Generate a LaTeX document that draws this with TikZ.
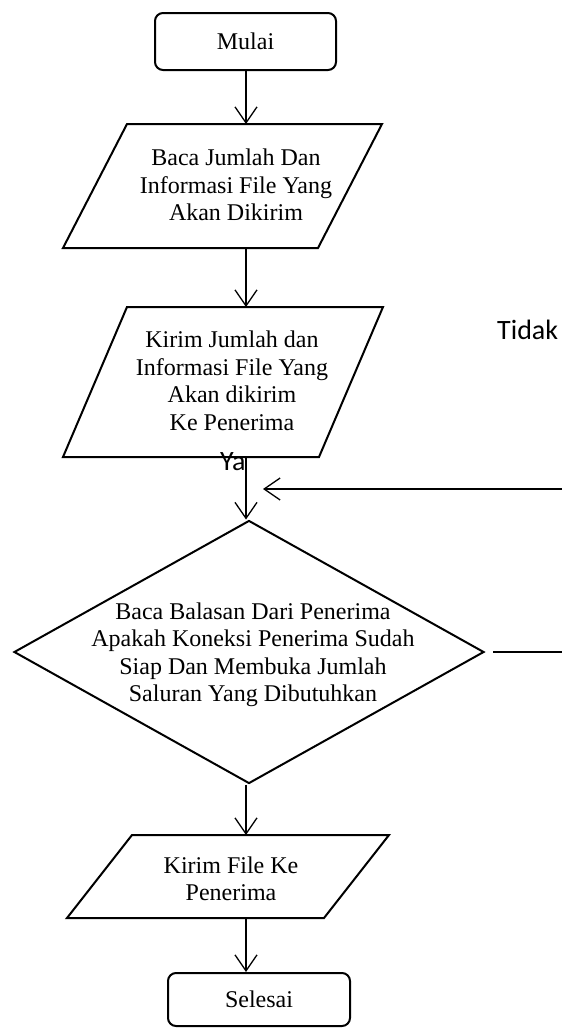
\documentclass[tikz,border=0pt]{standalone}
\usepackage{fontspec}
\setmainfont{Liberation Serif}
\newfontfamily\calib{Carlito}
\usetikzlibrary{arrows.meta,shapes.geometric}
\begin{document}
\begin{tikzpicture}[x=1pt,y=-1pt,
  shapeline/.style={draw=black,line width=2pt,line join=miter},
  termbox/.style={shapeline,rounded corners=8pt,inner sep=0pt},
  decbox/.style={shapeline,diamond,inner sep=0pt,minimum width=470pt,minimum height=263pt},
  txt/.style={align=center,font=\fontsize{24pt}{27.5pt}\selectfont,inner sep=0pt},
  lbl/.style={font=\calib\fontsize{28pt}{30pt}\selectfont,inner sep=0pt,anchor=base west},
  flow/.style={draw=black,line width=1.3pt,-{Straight Barb[length=16pt,width=22pt,line width=1.3pt]}},
  plain/.style={draw=black,line width=1.3pt}]
\useasboundingbox (0,0) rectangle (562,1028);
% terminals
\node[termbox,minimum width=181pt,minimum height=57pt] (mulai) at (245.5,41.5) {};
\node[txt] at (mulai.center) {Mulai};
\node[termbox,minimum width=182pt,minimum height=53pt] (selesai) at (259,999.5) {};
\node[txt] at (selesai.center) {Selesai};
% parallelogram 1
\draw[shapeline] (127,124) -- (382,124) -- (318,248) -- (63,248) -- cycle;
\node[txt] (t1) at (236,185) {Baca Jumlah Dan\\Informasi File Yang\\Akan Dikirim};
\coordinate (p1n) at (246,124);
\coordinate (p1s) at (246,248);
% parallelogram 2
\draw[shapeline] (127,307) -- (383,307) -- (319,457) -- (63,457) -- cycle;
\node[txt] (t2) at (232,381) {Kirim Jumlah dan\\Informasi File Yang\\Akan dikirim\\Ke Penerima};
\coordinate (p2n) at (246,307);
\coordinate (p2s) at (246,457);
% decision
\node[decbox] (dia) at (249,652) {};
\node[txt] (t3) at (253,655) {Baca Balasan Dari Penerima\\Apakah Koneksi Penerima Sudah\\Siap Dan Membuka Jumlah\\Saluran Yang Dibutuhkan};
% parallelogram 3
\draw[shapeline] (132,835) -- (389,835) -- (324,918) -- (67,918) -- cycle;
\node[txt] (t4) at (231,879) {Kirim File Ke\\Penerima};
\coordinate (p3n) at (246,835);
\coordinate (p3s) at (246,918);
% connectors
\draw[flow] (mulai.south -| p1n) -- (p1n);
\draw[flow] (p1s) -- (p2n);
\draw[flow] (p2s) -- (p2s |- dia.north);
\draw[flow] (p2s |- dia.south) -- (p3n);
\draw[flow] (p3s) -- (p3s |- selesai.north);
% loop fragments
\coordinate (rback) at (562,652);
\coordinate (rin) at (562,489);
\coordinate (loopend) at (263,489);
\draw[plain] ([xshift=8pt]dia.east) -- (rback);
\draw[flow] (rin) -- (loopend);
% labels
\node[lbl] (tidak) at (497,339) {Tidak};
\node[lbl] (ya) at (220,470) {Ya};
\end{tikzpicture}
\end{document}
